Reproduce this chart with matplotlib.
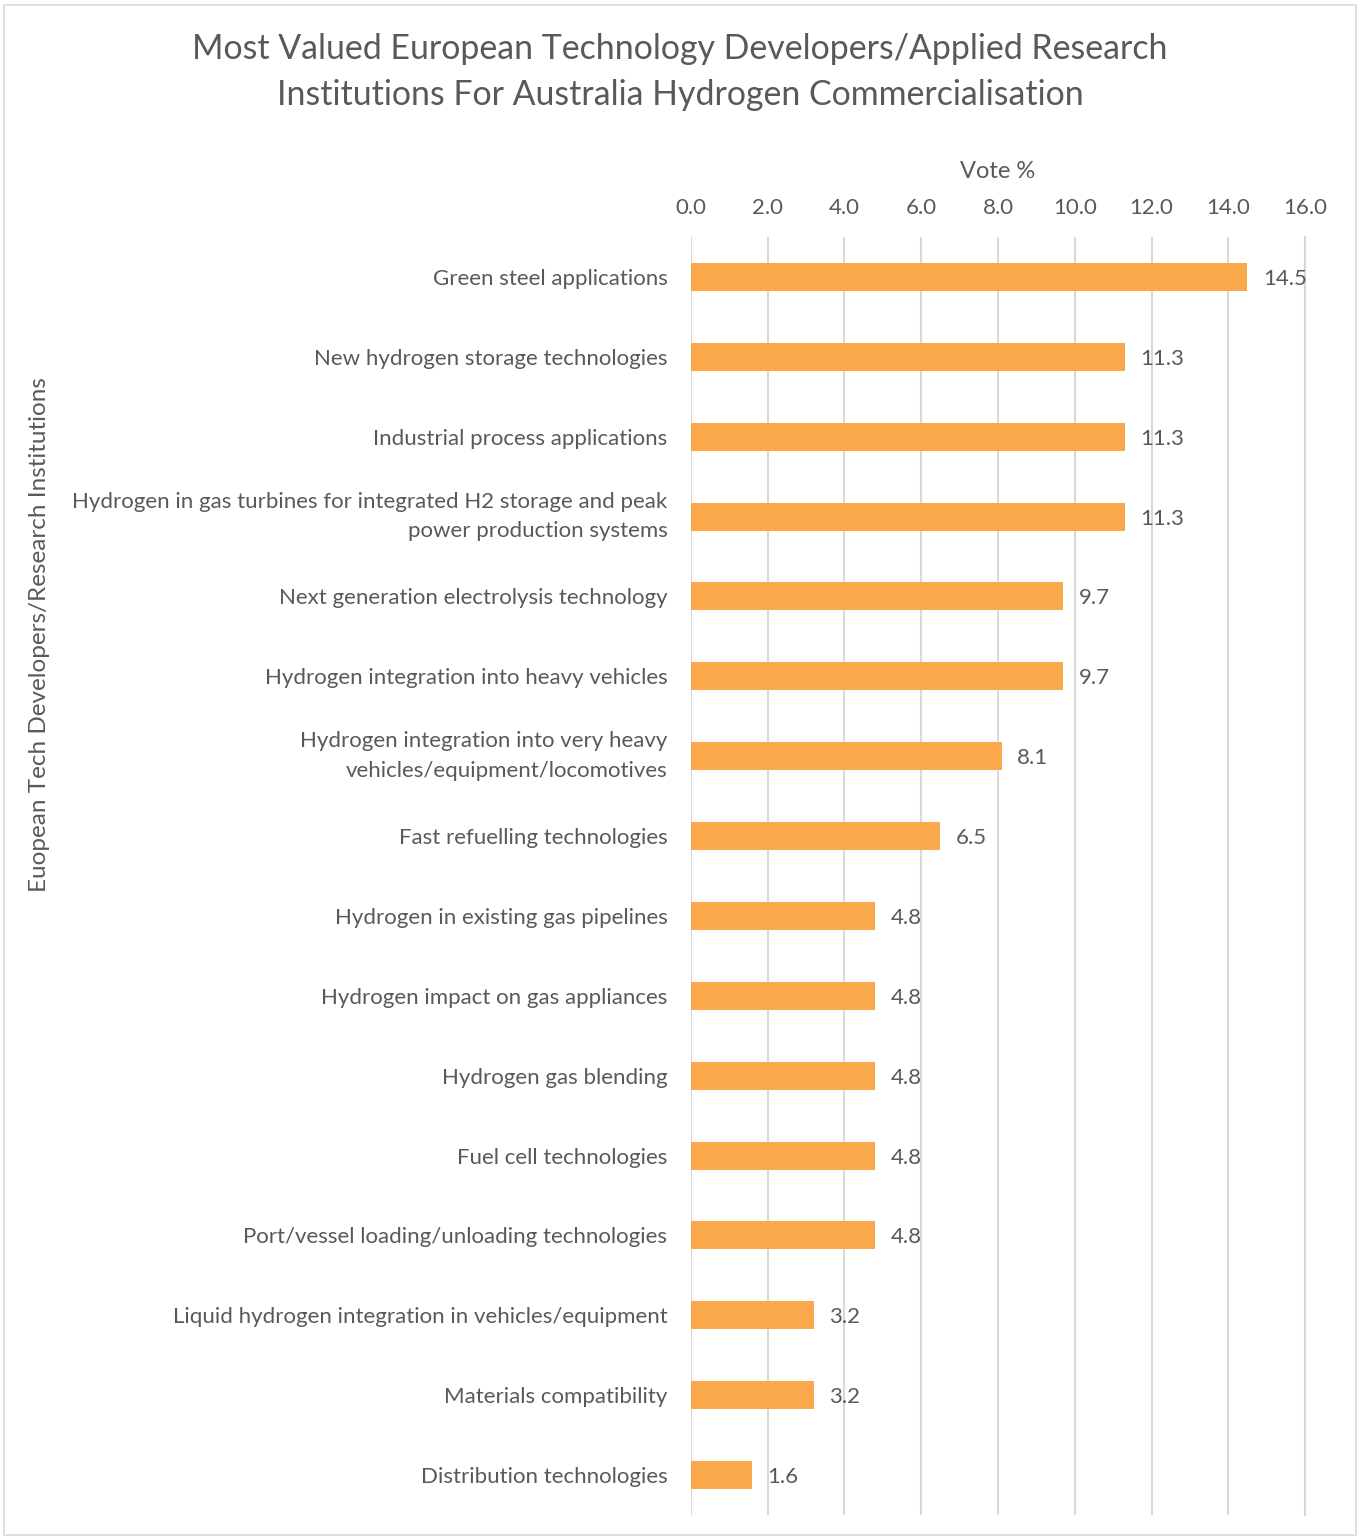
import matplotlib.pyplot as plt
from matplotlib.patches import Rectangle

categories = [
    "Green steel applications",
    "New hydrogen storage technologies",
    "Industrial process applications",
    "Hydrogen in gas turbines for integrated H2 storage and peak\npower production systems",
    "Next generation electrolysis technology",
    "Hydrogen integration into heavy vehicles",
    "Hydrogen integration into very heavy\nvehicles/equipment/locomotives",
    "Fast refuelling technologies",
    "Hydrogen in existing gas pipelines",
    "Hydrogen impact on gas appliances",
    "Hydrogen gas blending",
    "Fuel cell technologies",
    "Port/vessel loading/unloading technologies",
    "Liquid hydrogen integration in vehicles/equipment",
    "Materials compatibility",
    "Distribution technologies",
]
votes = [14.5, 11.3, 11.3, 11.3, 9.7, 9.7, 8.1, 6.5, 4.8, 4.8, 4.8, 4.8, 4.8, 3.2, 3.2, 1.6]
xticks = [0, 2, 4, 6, 8, 10, 12, 14, 16]

gray = "#595959"
bar_color = "#F9A94B"
plt.rcParams['font.family'] = ['Lato', 'DejaVu Sans']

fig = plt.figure(figsize=(13.62, 15.38), dpi=100)
ax = fig.add_axes([691 / 1362, 1 - 1515 / 1538, 614 / 1362, 1278 / 1538])

y = list(range(len(categories)))
ax.barh(y, votes, height=0.35, color=bar_color, zorder=3)
for yi, v in zip(y, votes):
    ax.annotate(f"{v:.1f}", (v, yi), xytext=(11, 0), textcoords="offset points",
                ha="left", va="center_baseline", fontsize=16, color=gray)

ax.set_ylim(len(categories) - 0.5, -0.5)
ax.set_xlim(0, 16)
ax.set_xticks(xticks)
ax.set_xticklabels([f"{t:.1f}" for t in xticks], fontsize=16, color=gray)
ax.xaxis.tick_top()
ax.xaxis.set_label_position("top")
ax.tick_params(axis="x", length=0, pad=14)
ax.set_xlabel("Vote %", fontsize=17, color=gray, labelpad=14)

ax.set_yticks(y)
ax.set_yticklabels(categories, fontsize=16, color=gray, ha="right", linespacing=1.6)
for lab in ax.get_yticklabels():
    if "\n" in lab.get_text():
        lab.set_verticalalignment("center")
ax.tick_params(axis="y", length=0, pad=17)

ax.grid(axis="x", color="#D9D9D9", linewidth=1.5, zorder=0)
ax.get_xgridlines()[-1].set_clip_on(False)
for s in ax.spines.values():
    s.set_visible(False)

fig.text(680 / 1362, 1 - 72 / 1538,
         "Most Valued European Technology Developers/Applied Research\nInstitutions For Australia Hydrogen Commercialisation",
         ha="center", va="center", fontsize=24.4, color=gray, linespacing=1.55)
fig.text(40 / 1362, 1 - 635 / 1538, "Euopean Tech Developers/Research Institutions",
         rotation=90, ha="center", va="center", fontsize=17.5, color=gray)

fig.patches.append(Rectangle((4 / 1362, 0.002), 1352 / 1362, 0.995, transform=fig.transFigure,
                             fill=False, edgecolor="#D9D9D9", linewidth=1.2))

fig.savefig("out.png", dpi=100, facecolor="white")
